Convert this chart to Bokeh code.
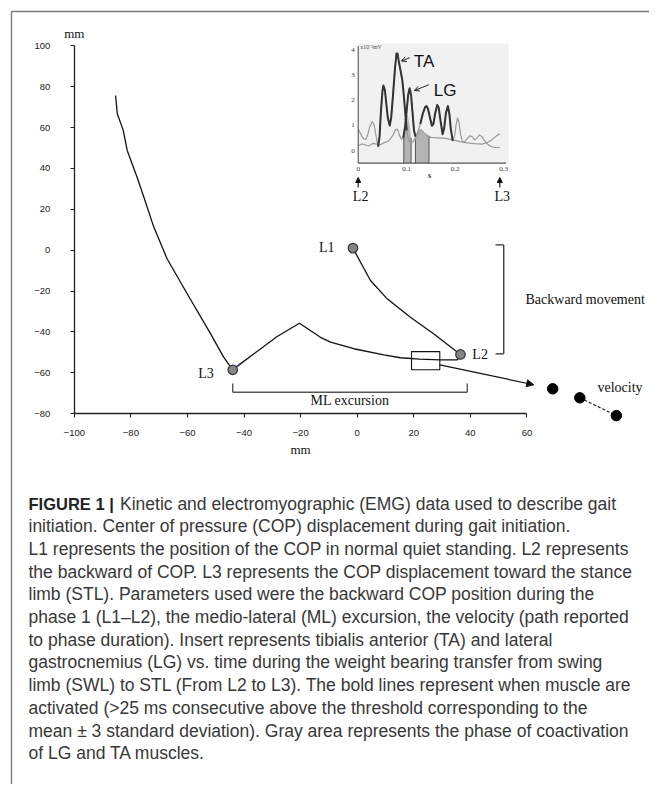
from bokeh.plotting import figure
from bokeh.models import (LinearAxis, Range1d, Label, Arrow, NormalHead, OpenHead,
                          FixedTicker)
from bokeh.embed import file_html
from bokeh.resources import INLINE
from bokeh.core.properties import value

# ---------------- data ----------------
X_TICKS = [-100, -80, -60, -40, -20, 0, 20, 40, 60]
Y_TICKS = [-80, -60, -40, -20, 0, 20, 40, 60, 80, 100]
X_BOUNDS = (-100, 60)
Y_BOUNDS = (-80, 100)

# COP path, in time order: L1 -> L2 -> ... -> L3 -> end
COP_X = [-1.5, 1.8, 4.7, 10.6, 18.8, 27.0, 36.5, 35.3, 29.4, 22.0, 15.3, 9.4, -1.2,
         -9.4, -13.0, -20.4, -28.3, -36.5, -41.3, -44.0, -47.2, -51.8, -60.1, -67.2,
         -71.9, -75.4, -77.8, -81.3, -82.7, -84.8, -85.4]
COP_Y = [1.0, -7.5, -14.8, -23.8, -32.8, -40.9, -51.0, -53.6, -53.6, -53.3, -52.6,
         -51.2, -48.2, -45.0, -42.6, -35.7, -42.2, -50.7, -55.6, -58.5, -52.3, -40.9,
         -21.3, -4.2, 11.3, 25.9, 35.7, 48.8, 58.6, 66.7, 75.7]
BLUE_SPAN = (18, 20)

POINT_NAMES = ["L1", "L2", "L3"]
POINT_X = [-1.5, 36.5, -44.0]
POINT_Y = [1.0, -51.0, -58.5]

VEL_X = [69.1, 78.7, 91.6]
VEL_Y = [-67.8, -72.2, -80.9]

WINDOW_X = [19.2, 29.2]
WINDOW_Y = [-58.5, -49.6]
ARROW_FROM = (29.2, -56.1)
ARROW_TO = (62.4, -65.8)

ML_X = [-44.0, 38.9]
ML_Y = [-65.2, -69.5]
BACK_X = [48.9, 51.8]
BACK_Y = [2.6, -50.7]

# inset EMG (time in s, amplitude)
EMG_T_TICKS = [0.0, 0.1, 0.2, 0.3]
EMG_T_LABELS = ["0", "0.1", "0.2", "0.3"]
EMG_V_TICKS = [0, 1, 2, 3, 4]
TA_T = [0.000, 0.004, 0.008, 0.012, 0.016, 0.020, 0.024, 0.029, 0.033, 0.037, 0.041,
        0.044, 0.047, 0.050, 0.052, 0.055, 0.058, 0.061, 0.065, 0.068, 0.072, 0.076,
        0.079, 0.081, 0.084, 0.088, 0.091, 0.094, 0.097, 0.100, 0.104, 0.108, 0.113,
        0.118, 0.123, 0.128, 0.133, 0.138, 0.141, 0.144, 0.148, 0.152, 0.155, 0.159,
        0.163, 0.166, 0.170, 0.174, 0.177, 0.181, 0.185, 0.188, 0.191, 0.195, 0.199,
        0.202, 0.205, 0.208, 0.211, 0.215, 0.220, 0.225, 0.230, 0.235, 0.240, 0.245,
        0.250, 0.255, 0.260, 0.267, 0.275, 0.283, 0.292]
TA_V = [0.85, 0.70, 0.55, 0.45, 0.45, 0.65, 0.95, 1.15, 1.00, 0.55, 0.15, 0.55, 1.60,
        2.35, 2.58, 2.40, 1.85, 1.30, 0.99, 1.30, 2.25, 3.30, 3.85, 3.85, 3.50, 3.10,
        2.78, 2.20, 1.50, 0.80, 0.40, 0.30, 0.35, 0.50, 0.75, 1.05, 1.45, 1.72, 1.76,
        1.65, 1.30, 0.98, 1.05, 1.50, 1.81, 1.70, 1.15, 0.65, 0.85, 1.50, 1.76, 1.45,
        0.85, 0.38, 0.60, 1.05, 1.30, 1.10, 0.65, 0.35, 0.35, 0.48, 0.58, 0.55, 0.42,
        0.50, 0.62, 0.55, 0.40, 0.25, 0.15, 0.12, 0.12]
LG_T = [0.000, 0.008, 0.015, 0.022, 0.030, 0.038, 0.045, 0.052, 0.060, 0.066, 0.072,
        0.077, 0.081, 0.085, 0.089, 0.093, 0.097, 0.100, 0.103, 0.106, 0.109, 0.112,
        0.115, 0.118, 0.122, 0.126, 0.130, 0.135, 0.142, 0.150, 0.165, 0.180, 0.195,
        0.210, 0.225, 0.240, 0.255, 0.265, 0.275, 0.285, 0.292]
LG_V = [0.20, 0.26, 0.22, 0.18, 0.28, 0.25, 0.22, 0.30, 0.35, 0.45, 0.62, 0.82, 0.85,
        0.60, 0.45, 0.50, 1.00, 1.60, 2.20, 2.47, 2.20, 1.50, 0.80, 0.55, 0.65, 0.80,
        0.82, 0.72, 0.60, 0.52, 0.50, 0.48, 0.42, 0.35, 0.30, 0.27, 0.25, 0.30, 0.42,
        0.58, 0.66]
TA_ACTIVE = [(0.041, 0.100), (0.128, 0.195)]
LG_ACTIVE = [(0.093, 0.118)]
COACT_A_T = [0.094, 0.098, 0.102, 0.106, 0.109]
COACT_A_V = [0.55, 1.20, 1.45, 1.00, 0.50]
COACT_B_T = [0.118, 0.124, 0.128, 0.136, 0.146]
COACT_B_V = [0.45, 0.75, 0.82, 0.68, 0.55]
INSET_T = (0.0, 0.31)
INSET_V = (-0.5, 4.25)
EVENT_T = [0.0, 0.292]
EVENT_NAMES = ["L2", "L3"]

CAPTION_HEAD = "FIGURE 1 |"
CAPTION_LINES = [
    "Kinetic and electromyographic (EMG) data used to describe gait",
    "initiation. Center of pressure (COP) displacement during gait initiation.",
    "L1 represents the position of the COP in normal quiet standing. L2 represents",
    "the backward of COP. L3 represents the COP displacement toward the stance",
    "limb (STL). Parameters used were the backward COP position during the",
    "phase 1 (L1\u2013L2), the medio-lateral (ML) excursion, the velocity (path reported",
    "to phase duration). Insert represents tibialis anterior (TA) and lateral",
    "gastrocnemius (LG) vs. time during the weight bearing transfer from swing",
    "limb (SWL) to STL (From L2 to L3). The bold lines represent when muscle are",
    "activated (>25 ms consecutive above the threshold corresponding to the",
    "mean \u00b1 3 standard deviation). Gray area represents the phase of coactivation",
    "of LG and TA muscles.",
]

# ---------------- layout helpers (picture pixels -> data) ----------------
W, H = 649, 784
OFF = 0
PX0, PXS = 356.7, 2.829     # picture x of x=0 ; px per mm
PY0, PYS = 249.7, 2.0444    # picture y of y=0 ; px per mm
TX0, TXS = 357.7, 485.0     # inset: picture x of t=0 ; px per s
VY0, VYS = 150.0, 25.2      # inset: picture y of v=0 ; px per unit


def dx(px):
    return (px - PX0) / PXS


def dy(py):
    return (PY0 - py) / PYS


def dt(px):
    return (px - TX0) / TXS


def dv(py):
    return (VY0 - py) / VYS


def window(ts, vs, span):
    a, b = span
    pts = [(t, v) for t, v in zip(ts, vs) if a <= t <= b]
    return [q[0] for q in pts], [q[1] for q in pts]


SERIF = "Liberation Serif"
SANS = "Liberation Sans"
CAP_FONT = "Liberation Sans"

p = figure(width=W, height=H,
           x_range=Range1d(dx(OFF), dx(OFF + W)),
           y_range=Range1d(dy(OFF + H), dy(OFF)),
           x_axis_type=None, y_axis_type=None,
           toolbar_location=None, output_backend="svg",
           min_border=0, outline_line_color=None)
p.extra_x_ranges = {"t": Range1d(dt(OFF), dt(OFF + W))}
p.extra_y_ranges = {"v": Range1d(dv(OFF + H), dv(OFF))}
p.background_fill_color = "white"
p.border_fill_color = "white"

# frame border of the figure panel
p.segment(x0=[dx(11), dx(11)], y0=[dy(11), dy(11)],
          x1=[dx(OFF + W + 10), dx(11)], y1=[dy(11), dy(OFF + H + 10)],
          line_color="#7a7a7a", line_width=1.4)

# ---------------- axes ----------------
xaxis = LinearAxis(fixed_location=Y_BOUNDS[0], bounds=X_BOUNDS,
                   ticker=FixedTicker(ticks=X_TICKS), axis_label="mm")
yaxis = LinearAxis(fixed_location=X_BOUNDS[0], bounds=Y_BOUNDS,
                   ticker=FixedTicker(ticks=Y_TICKS))
for ax in (xaxis, yaxis):
    ax.axis_line_color = "#222222"
    ax.axis_line_width = 1.3
    ax.major_tick_line_color = "#222222"
    ax.major_tick_line_width = 1.1
    ax.major_tick_in = 0
    ax.major_tick_out = 4
    ax.minor_tick_out = 0
    ax.minor_tick_in = 0
    ax.major_label_text_font = SANS
    ax.major_label_text_font_size = "9.5px"
    ax.major_label_text_color = "#222222"
xaxis.major_label_standoff = 12
xaxis.axis_label_standoff = 3
xaxis.axis_label_text_font = SERIF
xaxis.axis_label_text_font_style = "normal"
xaxis.axis_label_text_font_size = "13px"
xaxis.axis_label_text_color = "#111111"
yaxis.major_label_standoff = 20
p.add_layout(xaxis, "below")
p.add_layout(yaxis, "left")

p.add_layout(Label(x=X_BOUNDS[0], y=dy(33), text="mm", text_font=SERIF,
                   text_font_size="13px", text_align="center",
                   text_baseline="middle", text_color="#111111"))

# ---------------- COP trace ----------------
p.line(COP_X, COP_Y, line_color="#111111", line_width=1.3, line_join="round")
p.line(COP_X[BLUE_SPAN[0]:BLUE_SPAN[1]], COP_Y[BLUE_SPAN[0]:BLUE_SPAN[1]],
       line_color="#2838a8", line_width=1.3)

# window rectangle and arrow to velocity
p.quad(left=[WINDOW_X[0]], right=[WINDOW_X[1]], bottom=[WINDOW_Y[0]], top=[WINDOW_Y[1]],
       fill_alpha=0, line_color="#111111", line_width=1.1)
p.add_layout(Arrow(end=NormalHead(size=7, fill_color="#111111", line_color="#111111"),
                   x_start=ARROW_FROM[0], y_start=ARROW_FROM[1],
                   x_end=ARROW_TO[0], y_end=ARROW_TO[1],
                   line_color="#111111", line_width=1.2))

# velocity dots
p.line(VEL_X[1:], VEL_Y[1:], line_color="#222222", line_width=1.2, line_dash="3 2")
p.scatter(VEL_X, VEL_Y, size=10.5, fill_color="black", line_color="black")

# L1/L2/L3 points
p.scatter(POINT_X, POINT_Y, size=9.5, fill_color="#858585", line_color="#333333",
          line_width=1.2)
label_offsets = {"L1": (-6.5, 0.5, "right"), "L2": (4.2, 0.0, "left"),
                 "L3": (-6.7, -1.7, "right")}
for name, x, y in zip(POINT_NAMES, POINT_X, POINT_Y):
    ox, oy, al = label_offsets[name]
    p.add_layout(Label(x=x + ox, y=y + oy, text=name, text_font=SERIF,
                       text_font_size="14px", text_align=al,
                       text_baseline="middle", text_color="#111111"))

# backward movement bracket
p.segment(x0=[BACK_X[1], BACK_X[0], BACK_X[0]], y0=[BACK_Y[0], BACK_Y[0], BACK_Y[1]],
          x1=[BACK_X[1], BACK_X[1], BACK_X[1]], y1=[BACK_Y[1], BACK_Y[0], BACK_Y[1]],
          line_color="#333333", line_width=1.3)
p.add_layout(Label(x=dx(525), y=(BACK_Y[0] + BACK_Y[1]) / 2, text="Backward movement",
                   text_font=SERIF, text_font_size="14px", text_baseline="middle",
                   text_color="#111111"))

# ML excursion bracket
p.segment(x0=[ML_X[0], ML_X[0], ML_X[1]], y0=[ML_Y[1], ML_Y[0], ML_Y[0]],
          x1=[ML_X[1], ML_X[0], ML_X[1]], y1=[ML_Y[1], ML_Y[1], ML_Y[1]],
          line_color="#555555", line_width=1.4)
p.add_layout(Label(x=(ML_X[0] + ML_X[1]) / 2, y=ML_Y[1] - 3.8, text="ML excursion",
                   text_font=SERIF, text_font_size="14px", text_align="center",
                   text_baseline="middle", text_color="#111111"))

p.add_layout(Label(x=dx(597), y=VEL_Y[0] + 0.8, text="velocity", text_font=SERIF,
                   text_font_size="14px", text_baseline="middle",
                   text_color="#111111"))

# ---------------- inset EMG ----------------
R = dict(x_range_name="t", y_range_name="v")
p.quad(left=[INSET_T[0]], right=[INSET_T[1]], bottom=[INSET_V[0]], top=[INSET_V[1]],
       fill_color="#f1f1f1", line_color=None, **R)
for ct, cv in ((COACT_A_T, COACT_A_V), (COACT_B_T, COACT_B_V)):
    p.varea(x=ct, y1=[INSET_V[0]] * len(ct), y2=cv, fill_color="#b4b4b4", **R)
    p.segment(x0=[ct[0], ct[-1]], y0=[INSET_V[0]] * 2, x1=[ct[0], ct[-1]],
              y1=[cv[0], cv[-1]], line_color="#555555", line_width=1, **R)
p.line(TA_T, TA_V, line_color="#9a9a9a", line_width=1.2, line_join="round", **R)
p.line(LG_T, LG_V, line_color="#9a9a9a", line_width=1.2, line_join="round", **R)
for span in TA_ACTIVE:
    bt, bv = window(TA_T, TA_V, span)
    p.line(bt, bv, line_color="#333333", line_width=2.0, line_join="round", **R)
for span in LG_ACTIVE:
    bt, bv = window(LG_T, LG_V, span)
    p.line(bt, bv, line_color="#333333", line_width=2.0, line_join="round", **R)

p.segment(x0=[INSET_T[0], INSET_T[0]], y0=[INSET_V[0], INSET_V[0]],
          x1=[INSET_T[0], EMG_T_TICKS[-1] + 0.005], y1=[INSET_V[1] - 0.1, INSET_V[0]],
          line_color="#555555", line_width=1.1, **R)
p.text(x=[INSET_T[0] - 0.007] * len(EMG_V_TICKS), y=EMG_V_TICKS,
       text=[str(v) for v in EMG_V_TICKS], text_font=value(SERIF),
       text_font_size="7px", text_align="right", text_baseline="middle",
       text_color="#333333", **R)
p.text(x=EMG_T_TICKS, y=[INSET_V[0] - 0.22] * len(EMG_T_TICKS), text=EMG_T_LABELS,
       text_font=value(SERIF), text_font_size="7px", text_align="center",
       text_baseline="middle", text_color="#333333", **R)
p.add_layout(Label(x=0.147, y=INSET_V[0] - 0.48, text="s", text_font=SERIF,
                   text_font_size="8px", text_font_style="bold", text_align="center",
                   text_baseline="middle", text_color="#333333", **R))
p.add_layout(Label(x=INSET_T[0] + 0.004, y=4.1, text="x10\u207b\u00b3mV", text_font=SERIF,
                   text_font_size="6px", text_baseline="middle", text_color="#555555",
                   **R))

p.add_layout(Label(x=0.1146, y=3.53, text="TA", text_font=SANS, text_font_size="17px",
                   text_baseline="middle", text_color="#111111", **R))
p.add_layout(Label(x=0.156, y=2.38, text="LG", text_font=SANS, text_font_size="17px",
                   text_baseline="middle", text_color="#111111", **R))
p.add_layout(Arrow(end=OpenHead(size=5, line_width=1, line_color="#222222"),
                   x_start=0.106, y_start=3.68, x_end=0.089, y_end=3.55,
                   line_color="#222222", line_width=1, **R))
p.add_layout(Arrow(end=OpenHead(size=5, line_width=1, line_color="#222222"),
                   x_start=0.1456, y_start=2.61, x_end=0.116, y_end=2.38,
                   line_color="#222222", line_width=1, **R))

for t, name in zip(EVENT_T, EVENT_NAMES):
    p.add_layout(Arrow(end=NormalHead(size=5, fill_color="#111111", line_color="#111111"),
                       x_start=t, y_start=-1.47, x_end=t, y_end=-1.07,
                       line_color="#111111", line_width=1.1, **R))
    p.add_layout(Label(x=t + 0.005, y=-1.82, text=name, text_font=SERIF,
                       text_font_size="14px", text_align="center",
                       text_baseline="middle", text_color="#111111", **R))

# ---------------- caption ----------------
CAP_X = 28
CAP_Y0 = 503
CAP_DY = 22.7
p.add_layout(Label(x=dx(CAP_X), y=dy(CAP_Y0), text=CAPTION_HEAD, text_font=CAP_FONT,
                   text_font_style="bold", text_font_size="16.5px",
                   text_baseline="middle", text_color="#222222"))
for i, line in enumerate(CAPTION_LINES):
    x0 = 119.5 if i == 0 else CAP_X
    p.add_layout(Label(x=dx(x0), y=dy(CAP_Y0 + CAP_DY * i), text=line, text_font=CAP_FONT,
                       text_font_size="17.5px", text_baseline="middle",
                       text_color="#383838"))

open("out.html", "w").write(file_html(p, INLINE))
